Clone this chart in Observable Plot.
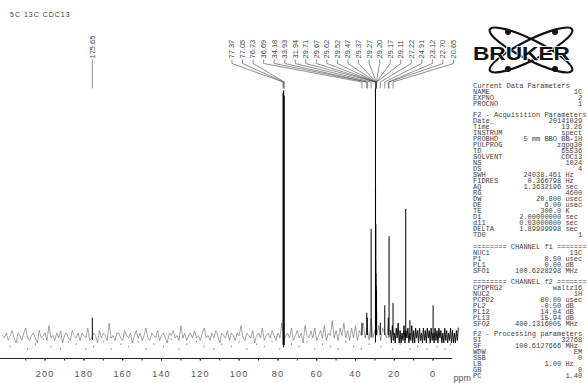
<!DOCTYPE html>
<html><head><meta charset="utf-8">
<script src="https://cdn.jsdelivr.net/npm/d3@7"></script>
<script src="https://cdn.jsdelivr.net/npm/@observablehq/plot@0.6"></script>
<style>
body{margin:0;background:#fff;}
#wrap{position:relative;width:587px;height:383px;overflow:hidden;background:#fff;}
#chart{position:absolute;left:0;top:0;}
#title{position:absolute;left:10px;top:11px;font:7px/7px "Liberation Sans",sans-serif;letter-spacing:1px;color:#444;white-space:pre;}
.par{position:absolute;left:473px;margin:0;font:7px/6px "Liberation Mono",monospace;color:#444;white-space:pre;}
#logo{position:absolute;left:0;top:0;}
g[aria-label="x-axis tick label"] text{letter-spacing:1.2px;}
</style></head><body>
<div id="wrap"><div id="chart"></div><div id="title"></div><div id="params"></div>
<svg id="logo" width="587" height="90" viewBox="0 0 587 90">
  <ellipse cx="531" cy="50" rx="46" ry="10" transform="rotate(26.6 531 50)" fill="none" stroke="#111" stroke-width="2.2"/>
  <ellipse cx="531" cy="50" rx="46" ry="10" transform="rotate(-26.6 531 50)" fill="none" stroke="#111" stroke-width="2.2"/>
  <circle cx="508" cy="32" r="3" fill="#111"/><circle cx="555" cy="32" r="3" fill="#111"/>
  <circle cx="508" cy="69" r="3" fill="#111"/><circle cx="555" cy="69" r="3" fill="#111"/>
  <text x="473" y="60" textLength="97" lengthAdjust="spacingAndGlyphs" font-family="Liberation Sans" font-weight="bold" font-size="18" fill="#111" stroke="#fff" stroke-width="1.4" paint-order="stroke">BRUKER</text>
</svg>
</div>
<script>
const titleText = "5C 13C CDC13";

// peaks (ppm, intensity, lower end)
const peakPpm    = [175.65, 77.37, 77.05, 76.73, 36.69, 34.18, 33.93, 31.94, 29.71, 29.67, 29.62, 29.52, 29.47, 29.37, 29.27, 29.20, 29.17, 29.11, 27.22, 24.91, 23.12, 22.70, 20.65, 14.11, 11.98, 0.00];
const peakHeight = [7, 98, 99, 97, 5, 9, 7, 43, 150, 60, 30, 45, 25, 20, 18, 14, 12, 10, 5, 12, 7, 40, 13, 51, 6, 12];
const peakBase   = [-2, -4, -5, -4, 0, 0, 0, -1, -3, 0, 0, 0, 0, 0, 0, 0, 0, 0, 0, 0, 0, -1, 0, -1, 0, 0];

// labelled peaks
const labelPpm = [175.65, 77.37, 77.05, 76.73, 36.69, 34.18, 33.93, 31.94, 29.71, 29.67, 29.62, 29.52, 29.47, 29.37, 29.27, 29.20, 29.17, 29.11, 27.22, 24.91, 23.12, 22.70, 20.65];

// baseline noise, 222 ppm down to 23 ppm, 1 ppm apart
const noiseStart = 222;
const noise = [
 0,-1,1,-2,0,2,-1,-3,1,0,-2,1,3,-1,-2,0,1,-1,-3,2,
 -1,0,1,-2,4,-1,0,-2,1,-1,2,-3,0,1,-1,-2,2,0,-1,1,
 -2,1,0,-1,3,-2,-1,1,0,-3,2,-1,1,0,-2,5,-1,0,-2,1,
 1,-1,-2,2,0,-1,1,-3,0,2,-1,1,-2,0,3,-1,-2,1,0,-1,
 2,-2,0,1,-1,-3,1,0,2,-1,0,-2,4,-1,1,-2,0,1,-1,2,
 -1,0,-2,1,3,-1,0,-2,1,-1,2,0,-3,1,0,-1,2,-2,1,0,
 -2,1,0,4,-1,-2,1,0,-1,2,-3,0,1,-1,3,-2,0,1,-1,2,
 0,-2,1,-1,5,-2,0,1,-1,3,-2,0,2,-1,1,-3,4,0,-1,2,
 -1,3,-2,0,2,-1,4,-2,1,0,6,-1,2,-2,3,0,5,-1,2,-2,
 3,-1,4,-2,2,0,5,-1,3,-2,7,-1,2,0,4,-2,3,1,-1,5
];
// dense noise, 22 ppm down to -13 ppm, 0.5 ppm apart
const denseStart = 22;
const denseNoise = [
 2,-3,4,-2,1,-3,3,-1,5,-3,
 2,-3,1,-2,4,-3,2,-1,3,-3,
 1,-2,4,-3,2,-3,3,-1,2,-3,
 3,-2,1,-3,3,-2,2,-3,3,-1,
 2,-3,3,-2,1,-3,3,-2,2,-3,
 3,-1,2,-3,1,-3,3,-2,2,-3,
 1,-2,3,-3,2,-3,1,-3,2,-2,3
];
// scattered points below the baseline
const dotPpm = [218,214,209,205,201,197,192,188,184,179,175,170,166,161,157,152,148,144,139,135,131,127,122,118,113,109,104,100,96,91,87,83,79,73,69,65,61,57,53,49,45,41,37,33,27,21,17,12,8,3,-2,-6,-9];
const dotVal = [-5,-3,-6,-4,-2,-5,-6,-3,-4,-6,-5,-3,-6,-4,-5,-3,-6,-4,-5,-2,-6,-4,-3,-5,-6,-4,-5,-3,-6,-4,-5,-3,-6,-4,-5,-3,-6,-4,-5,-6,-3,-5,-6,-4,-5,-6,-4,-6,-5,-6,-5,-6,-4];

const majorTicks = [200,180,160,140,120,100,80,60,40,20,0];
const allTicks = [210,200,190,180,170,160,150,140,130,120,110,100,90,80,70,60,50,40,30,20,10,0];

// parameter listing
const paramBlocks = [
 {top: 83, header: "Current Data Parameters", rows: [["NAME","1C"],["EXPNO","2"],["PROCNO","1"]]},
 {top: 112, header: "F2 - Acquisition Parameters", rows: [["Date_","20141029"],["Time","13.26"],["INSTRUM","spect"],["PROBHD","5 mm BBO BB-1H"],["PULPROG","zgpg30"],["TD","65536"],["SOLVENT","CDC13"],["NS","1024"],["DS","4"],["SWH","24038.461","Hz"],["FIDRES","0.366798","Hz"],["AQ","1.3632196","sec"],["RG","4600"],["DW","20.800","usec"],["DE","6.00","usec"],["TE","300.0","K"],["D1","2.00000000","sec"],["d11","0.03000000","sec"],["DELTA","1.89999998","sec"],["TD0","1"]]},
 {top: 244, header: "======== CHANNEL f1 =======", rows: [["NUC1","13C"],["P1","8.50","usec"],["PL1","0.00","dB"],["SFO1","100.6228298","MHz"]]},
 {top: 279, header: "======== CHANNEL f2 =======", rows: [["CPDPRG2","waltz16"],["NUC2","1H"],["PCPD2","80.00","usec"],["PL2","-0.50","dB"],["PL12","14.04","dB"],["PL13","15.94","dB"],["SFO2","400.1316005","MHz"]]},
 {top: 331, header: "F2 - Processing parameters", rows: [["SI","32768"],["SF","100.6127666","MHz"],["WDW","EM"],["SSB","0"],["LB","1.00","Hz"],["GB","0"],["PC","1.40"]]}
];

document.getElementById("title").textContent = titleText;
const fmtRow = ([n, v, u]) => u ? n + v.padStart(21 - n.length) + " " + u : n + v.padStart(26 - n.length);
const pc = document.getElementById("params");
for (const b of paramBlocks) {
  const pre = document.createElement("pre");
  pre.className = "par";
  pre.style.top = b.top + "px";
  pre.textContent = [b.header, ...b.rows.map(fmtRow)].join("\n");
  pc.appendChild(pre);
}

// scales
const W = 587, H = 383, mL = 0, mR = 135, mT = 88, mB = 25;
const xDomain = [223, -10], yDomain = [-9.31, 100];
const xs = d3.scaleLinear(xDomain, [mL, W - mR]);
const ys = d3.scaleLinear(yDomain, [H - mB, mT]);

const peaks = peakPpm.map((p, i) => ({ppm: p, h: peakHeight[i], b: peakBase[i]}));
const noiseData = noise.map((v, i) => ({ppm: noiseStart - i, v}));
const denseData = denseNoise.map((v, i) => ({ppm: denseStart - i * 0.5, v}));
const dots = dotPpm.map((p, i) => ({ppm: p, v: dotVal[i]}));

// label layout (spread labels, keep inside right edge)
const sp = 10.55, rightLimit = 453;
const items = labelPpm.map(p => ({p, px: xs(p)})).sort((a, b) => a.px - b.px);
let clusters = items.map(it => ({items: [it]}));
const cstart = c => d3.mean(c.items, d => d.px) - (c.items.length - 1) * sp / 2;
let merged = true;
while (merged) {
  merged = false;
  for (let i = 0; i < clusters.length - 1; i++) {
    const a = clusters[i], b = clusters[i + 1];
    if (cstart(a) + a.items.length * sp > cstart(b)) {
      a.items = a.items.concat(b.items); clusters.splice(i + 1, 1); merged = true; break;
    }
  }
}
for (const c of clusters) {
  let s = cstart(c);
  if (s + (c.items.length - 1) * sp > rightLimit) s = rightLimit - (c.items.length - 1) * sp;
  c.items.forEach((it, k) => it.lx = s + k * sp);
}
const labels = items.map(it => ({ppm: it.p, lppm: xs.invert(it.lx), text: it.p.toFixed(2)}));
const leaders = [];
labels.forEach((l, i) => {
  leaders.push({i, x: l.lppm, y: ys.invert(59.5)});
  leaders.push({i, x: l.lppm, y: ys.invert(63)});
  leaders.push({i, x: l.ppm, y: ys.invert(81.5)});
  leaders.push({i, x: l.ppm, y: ys.invert(87.5)});
});

const plot = Plot.plot({
  width: W, height: H, marginLeft: mL, marginRight: mR, marginTop: mT, marginBottom: mB,
  style: {fontFamily: "Liberation Sans", background: "#fff"},
  x: {domain: xDomain},
  y: {domain: yDomain, axis: null},
  marks: [
    Plot.ruleX(dots, {x: "ppm", y1: "v", y2: d => d.v + 0.6, stroke: "#888", strokeWidth: 1}),
    Plot.line(noiseData, {x: "ppm", y: "v", stroke: "#666", strokeWidth: 0.6}),
    Plot.line(denseData, {x: "ppm", y: "v", stroke: "#111", strokeWidth: 1}),
    Plot.ruleX(peaks, {x: "ppm", y1: "b", y2: "h", stroke: "#000", strokeWidth: 1, clip: true}),
    Plot.ruleY([yDomain[0]], {stroke: "#222", strokeWidth: 1}),
    Plot.axisX(allTicks, {tickSize: 2.5, text: null, stroke: "#333", label: null}),
    Plot.axisX(majorTicks, {tickSize: 2.5, tickPadding: 10, fontSize: 9, fill: "#555", stroke: "#333", label: null}),
    Plot.text(["ppm"], {frameAnchor: "bottom-right", textAnchor: "start", lineAnchor: "middle", dx: 1, dy: 20, fontSize: 9, fill: "#555"}),
    Plot.line(leaders, {x: "x", y: "y", z: "i", stroke: "#444", strokeWidth: 0.6}),
    Plot.text(labels, {x: "lppm", y: ys.invert(58), text: "text", rotate: -90, textAnchor: "start", fontSize: 7.5, fill: "#444"})
  ]
});
document.getElementById("chart").appendChild(plot);
</script>
</body></html>
